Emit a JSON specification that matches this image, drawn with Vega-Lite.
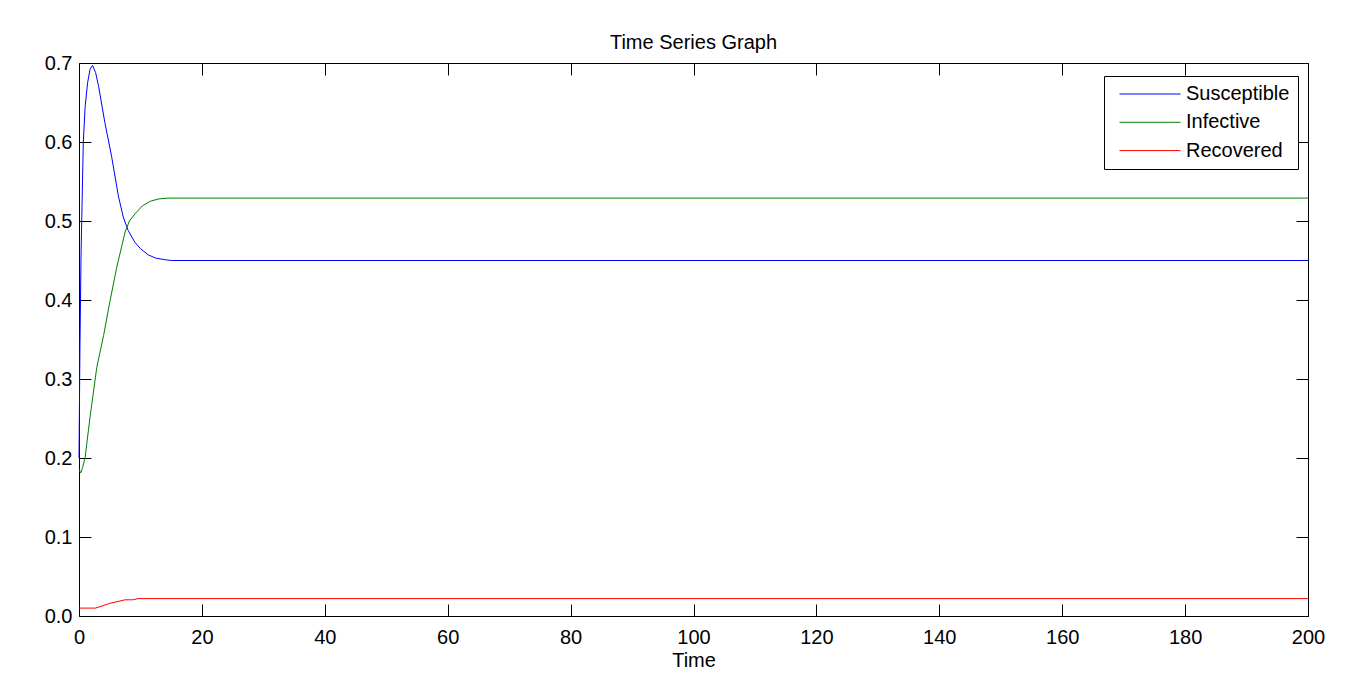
{
  "$schema": "https://vega.github.io/schema/vega-lite/v6.json",
  "width": 1229,
  "height": 553,
  "autosize": {"type": "none"},
  "padding": {"left": 79, "top": 63, "right": 39, "bottom": 66},
  "background": "white",
  "title": {"text": "Time Series Graph", "fontSize": 20, "fontWeight": "normal", "font": "Liberation Sans", "color": "black", "offset": 0, "anchor": "middle"},
  "config": {
    "font": "Liberation Sans",
    "view": {"stroke": "black", "strokeWidth": 1},
    "axis": {"grid": false, "domain": false, "tickColor": "black", "labelColor": "black", "labelFontSize": 20, "titleFontSize": 20, "titleFontWeight": "normal", "titleColor": "black", "tickSize": -12}
  },
  "data": {"values": [
    {"t": 0, "v": 0.2, "s": "Susceptible"},
    {"t": 0.16, "v": 0.345, "s": "Susceptible"},
    {"t": 0.33, "v": 0.456, "s": "Susceptible"},
    {"t": 0.7, "v": 0.6, "s": "Susceptible"},
    {"t": 1.0, "v": 0.645, "s": "Susceptible"},
    {"t": 1.4, "v": 0.675, "s": "Susceptible"},
    {"t": 1.8, "v": 0.692, "s": "Susceptible"},
    {"t": 2.2, "v": 0.697, "s": "Susceptible"},
    {"t": 2.7, "v": 0.688, "s": "Susceptible"},
    {"t": 3.2, "v": 0.67, "s": "Susceptible"},
    {"t": 4.2, "v": 0.625, "s": "Susceptible"},
    {"t": 5.3, "v": 0.582, "s": "Susceptible"},
    {"t": 6.4, "v": 0.532, "s": "Susceptible"},
    {"t": 7.2, "v": 0.505, "s": "Susceptible"},
    {"t": 8.0, "v": 0.488, "s": "Susceptible"},
    {"t": 9.1, "v": 0.473, "s": "Susceptible"},
    {"t": 10.0, "v": 0.465, "s": "Susceptible"},
    {"t": 11.3, "v": 0.457, "s": "Susceptible"},
    {"t": 12.5, "v": 0.453, "s": "Susceptible"},
    {"t": 14.0, "v": 0.451, "s": "Susceptible"},
    {"t": 15.0, "v": 0.45, "s": "Susceptible"},
    {"t": 200, "v": 0.45, "s": "Susceptible"},
    {"t": 0, "v": 0.186, "s": "Infective"},
    {"t": 0.27, "v": 0.181, "s": "Infective"},
    {"t": 0.6, "v": 0.188, "s": "Infective"},
    {"t": 1.0, "v": 0.201, "s": "Infective"},
    {"t": 1.8, "v": 0.252, "s": "Infective"},
    {"t": 2.9, "v": 0.315, "s": "Infective"},
    {"t": 4.0, "v": 0.355, "s": "Infective"},
    {"t": 5.0, "v": 0.397, "s": "Infective"},
    {"t": 6.1, "v": 0.44, "s": "Infective"},
    {"t": 7.5, "v": 0.486, "s": "Infective"},
    {"t": 8.2, "v": 0.5, "s": "Infective"},
    {"t": 9.1, "v": 0.509, "s": "Infective"},
    {"t": 10.3, "v": 0.519, "s": "Infective"},
    {"t": 11.6, "v": 0.525, "s": "Infective"},
    {"t": 13.0, "v": 0.528, "s": "Infective"},
    {"t": 14.5, "v": 0.529, "s": "Infective"},
    {"t": 200, "v": 0.529, "s": "Infective"},
    {"t": 0, "v": 0.01, "s": "Recovered"},
    {"t": 2.7, "v": 0.01, "s": "Recovered"},
    {"t": 5.0, "v": 0.016, "s": "Recovered"},
    {"t": 7.5, "v": 0.0205, "s": "Recovered"},
    {"t": 8.8, "v": 0.0205, "s": "Recovered"},
    {"t": 9.6, "v": 0.022, "s": "Recovered"},
    {"t": 200, "v": 0.022, "s": "Recovered"}
  ]},
  "resolve": {"axis": {"x": "independent", "y": "independent"}},
  "layer": [
    {
      "mark": {"type": "line", "strokeWidth": 1},
      "encoding": {
        "x": {"field": "t", "type": "quantitative", "scale": {"domain": [0, 200], "nice": false},
              "axis": {"orient": "bottom", "values": [0,20,40,60,80,100,120,140,160,180,200], "title": "Time", "labelPadding": 23, "titlePadding": 3, "labelFlush": false}},
        "y": {"field": "v", "type": "quantitative", "scale": {"domain": [0, 0.7], "nice": false, "zero": false},
              "axis": {"orient": "left", "values": [0,0.1,0.2,0.3,0.4,0.5,0.6,0.7], "title": null, "labelPadding": 19, "labelFlush": false}},
        "color": {"field": "s", "type": "nominal",
                  "scale": {"domain": ["Susceptible", "Infective", "Recovered"], "range": ["#0000ff", "#008000", "#ff0000"]},
                  "legend": {"title": null, "orient": "none", "legendX": 1025, "legendY": 13, "strokeColor": "black", "fillColor": "white", "padding": 8, "cornerRadius": 0,
                             "symbolType": "M-5,0H5", "symbolSize": 149, "symbolStrokeWidth": 1, "symbolOffset": 28, "labelOffset": 26, "labelFontSize": 20, "labelColor": "black", "rowPadding": 8.3}}
      }
    },
    {
      "mark": {"type": "line", "strokeOpacity": 0},
      "encoding": {
        "x": {"field": "t", "type": "quantitative",
              "axis": {"orient": "top", "values": [0,20,40,60,80,100,120,140,160,180,200], "title": null, "labels": false}},
        "y": {"field": "v", "type": "quantitative",
              "axis": {"orient": "right", "values": [0,0.1,0.2,0.3,0.4,0.5,0.6,0.7], "title": null, "labels": false}},
        "detail": {"field": "s", "type": "nominal"}
      }
    }
  ]
}
